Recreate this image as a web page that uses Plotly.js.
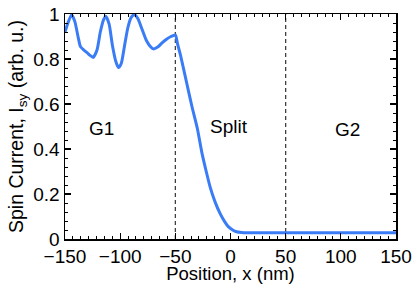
<!DOCTYPE html>
<html>
<head>
<meta charset="utf-8">
<script src="https://cdn.plot.ly/plotly-3.0.1.min.js"></script>
<style>html,body{margin:0;padding:0;background:#fff;}#chart{width:415px;height:284px;}</style>
</head>
<body>
<div id="chart"></div>
<script>
// Position (nm)
var positionNm = [-150,-147,-144,-141,-138,-136,-133,-130,-127,-124.5,-121,-118,-115,-113,-110,-107,-104,-101.5,-99,-96,-93,-90,-87,-84,-80,-76,-72,-70,-66,-62,-58,-54,-50,-48,-45,-40,-35,-30,-26,-22,-18.5,-14,-9.5,-5,-2,2,5.5,10,15,20,50,100,150];
// Spin current I_sy (arb. u.)
var spinCurrent = [0.92,0.965,0.997,0.965,0.895,0.855,0.84,0.828,0.815,0.807,0.84,0.92,0.975,0.99,0.955,0.86,0.79,0.762,0.78,0.86,0.94,0.985,0.997,0.98,0.93,0.88,0.852,0.845,0.853,0.872,0.888,0.9,0.907,0.867,0.81,0.70,0.59,0.49,0.385,0.30,0.232,0.165,0.114,0.075,0.055,0.04,0.032,0.029,0.028,0.028,0.028,0.028,0.028];
// Region boundaries (nm) and region names
var boundaries = [-50, 50];
var regionNames = ['G1', 'Split', 'G2'];
var xTickVals = [-150, -100, -50, 0, 50, 100, 150];
var yTickVals = [0, 0.2, 0.4, 0.6, 0.8, 1];
var yTickText = ['0', '0.2', '0.4', '0.6', '0.8', '1'];

var font = 'Liberation Sans, Arial, Helvetica, sans-serif';

var shapes = boundaries.map(function (b) {
  return {type: 'line', xref: 'x', yref: 'paper', x0: b, x1: b, y0: 0, y1: 1,
          line: {color: '#333', width: 1.2, dash: '4px,3px'}, layer: 'below'};
});

var labelPos = [[-116.5, 0.49], [-1.4, 0.50], [105.6, 0.485]];
var annotations = regionNames.map(function (n, i) {
  return {x: labelPos[i][0], y: labelPos[i][1], xref: 'x', yref: 'y', text: n,
          showarrow: false, font: {family: font, size: 19, color: '#000'}};
});

var trace = {
  x: positionNm, y: spinCurrent, type: 'scatter', mode: 'lines',
  line: {color: '#3a7cf6', width: 3, shape: 'spline', smoothing: 0.6},
  hoverinfo: 'skip'
};

var axisCommon = {
  showgrid: false, zeroline: false, showline: true, linecolor: '#000', linewidth: 1.5,
  mirror: 'allticks', ticks: 'inside', ticklen: 6, tickwidth: 1.2, tickcolor: '#000',
  tickfont: {family: font, size: 19, color: '#000'}
};

var layout = {
  width: 415, height: 284,
  margin: {l: 65, r: 19, t: 14, b: 45},
  paper_bgcolor: '#fff', plot_bgcolor: '#fff',
  showlegend: false,
  xaxis: Object.assign({}, axisCommon, {
    range: [-150, 150], tickvals: xTickVals,
    minor: {dtick: 50/7, tick0: -150, ticks: 'inside', ticklen: 3, tickwidth: 1, tickcolor: '#000'},
    title: {text: 'Position, x (nm)', font: {family: font, size: 18.5, color: '#000'}, standoff: 3}
  }),
  yaxis: Object.assign({}, axisCommon, {
    range: [0, 1], tickvals: yTickVals, ticktext: yTickText,
    minor: {dtick: 0.04, tick0: 0, ticks: 'inside', ticklen: 3, tickwidth: 1, tickcolor: '#000'},
    title: {text: 'Spin Current, I<sub>sy</sub> (arb. u.)', font: {family: font, size: 19.5, color: '#000'}, standoff: 4}
  }),
  shapes: shapes,
  annotations: annotations
};

Plotly.newPlot('chart', [trace], layout, {staticPlot: true, displayModeBar: false});
</script>
</body>
</html>
